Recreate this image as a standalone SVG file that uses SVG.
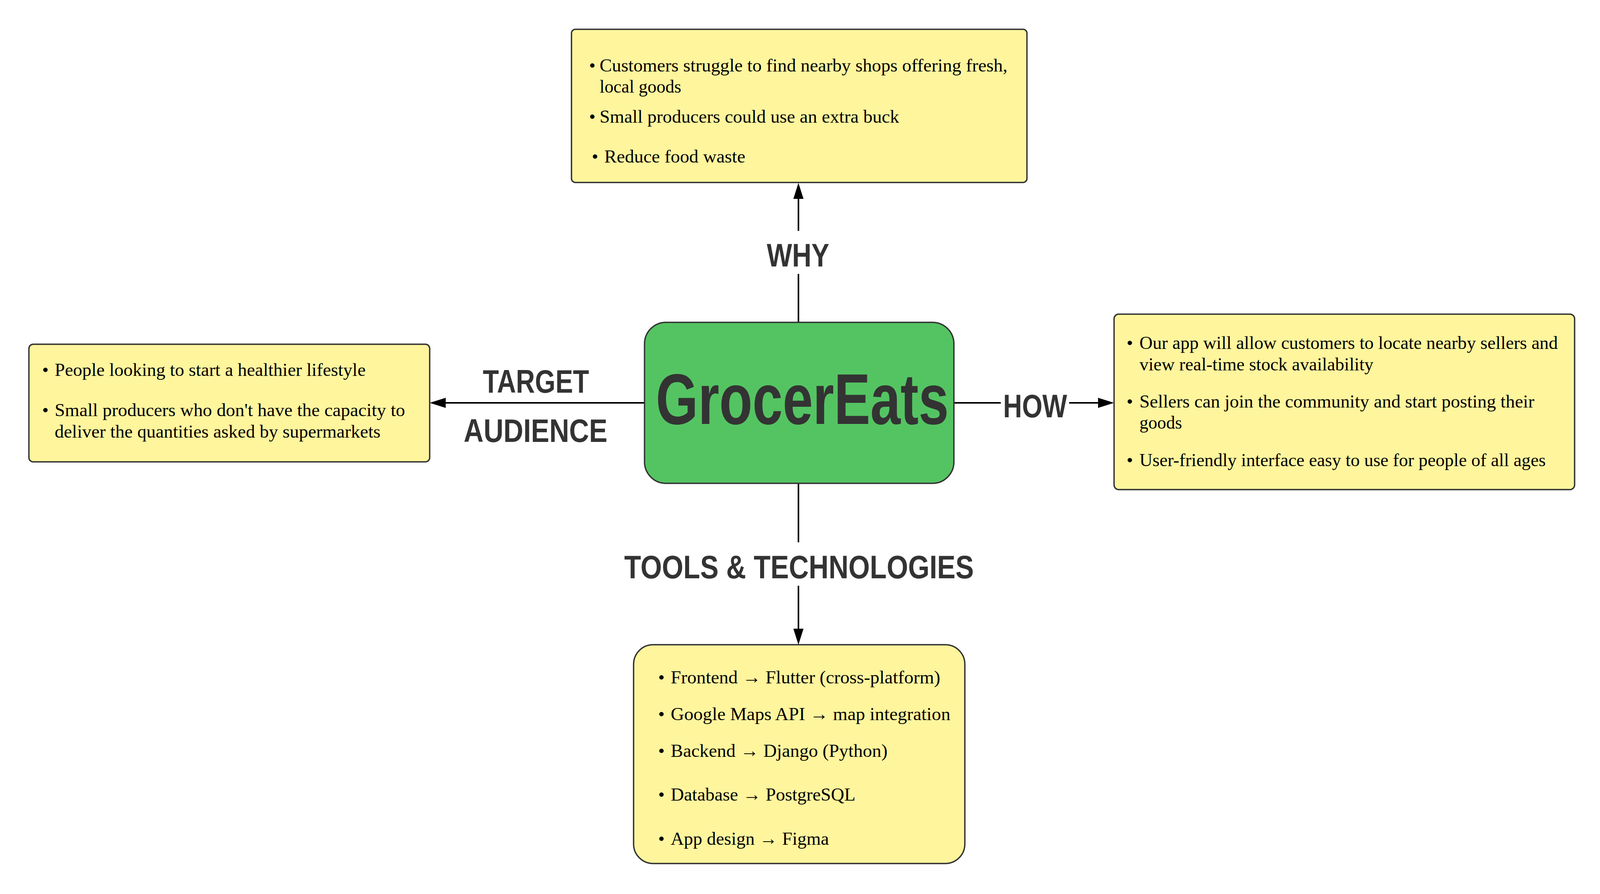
<svg xmlns="http://www.w3.org/2000/svg" width="4106" height="2288" viewBox="0 0 4106 2288">
<style>
.box{fill:#fff59d;stroke:#333;stroke-width:3.5}
.center{fill:#54c462;stroke:#333;stroke-width:3.5}
.b{font-family:"Liberation Serif","Times New Roman",serif;font-size:47px;fill:#000}
.hand{font-family:"Liberation Sans",Arial,sans-serif;font-weight:bold;fill:#333}
.lbl{font-size:83px}
.edge{fill:none;stroke:#000;stroke-width:4}
</style>
<defs>
<marker id="arrow" markerUnits="userSpaceOnUse" viewBox="0 0 41 26" refX="0" refY="13" markerWidth="41" markerHeight="26" orient="auto">
<path d="M0,0 L41,13 L0,26 z" fill="#000"/>
</marker>
</defs>
<rect width="4106" height="2288" fill="#fff"/>

<g id="connectors">
<path class="edge" d="M2044 825 V701 M2044 591 V509" marker-end="url(#arrow)"/>
<path class="edge" d="M2442 1031 H2562 M2737 1031 H2811" marker-end="url(#arrow)"/>
<path class="edge" d="M2044 1237 V1388 M2044 1499 V1609" marker-end="url(#arrow)"/>
<path class="edge" d="M1650 1031 H1141" marker-end="url(#arrow)"/>
</g>

<g id="edge-labels">
<text class="hand lbl" transform="translate(1963,682) scale(0.826,1)">WHY</text>
<text class="hand lbl" transform="translate(2568,1068) scale(0.808,1)">HOW</text>
<text class="hand lbl" transform="translate(1236,1005) scale(0.812,1)">TARGET</text>
<text class="hand lbl" transform="translate(1187,1131) scale(0.849,1)">AUDIENCE</text>
<text class="hand lbl" transform="translate(1598,1480) scale(0.849,1)">TOOLS &amp; TECHNOLOGIES</text>
</g>

<g id="node-center">
<rect class="center" x="1650" y="825" width="792" height="412" rx="55" ry="55"/>
<text class="hand" font-size="184" transform="translate(1679,1085) scale(0.756,1)">GrocerEats</text>
</g>

<g id="node-why">
<rect class="box" x="1463" y="75" width="1166" height="392" rx="10" ry="10"/>
<text class="b" x="1508" y="183">•</text>
<text class="b" x="1535" y="183" textLength="1044" lengthAdjust="spacingAndGlyphs">Customers struggle to find nearby shops offering fresh,</text>
<text class="b" x="1535" y="237" textLength="209" lengthAdjust="spacingAndGlyphs">local goods</text>
<text class="b" x="1508" y="314">•</text>
<text class="b" x="1535" y="314" textLength="767" lengthAdjust="spacingAndGlyphs">Small producers could use an extra buck</text>
<text class="b" x="1515" y="416">•</text>
<text class="b" x="1547" y="416" textLength="361" lengthAdjust="spacingAndGlyphs">Reduce food waste</text>
</g>

<g id="node-target">
<rect class="box" x="74" y="881" width="1026" height="301" rx="11" ry="11"/>
<text class="b" x="108" y="962">•</text>
<text class="b" x="140" y="962" textLength="796" lengthAdjust="spacingAndGlyphs">People looking to start a healthier lifestyle</text>
<text class="b" x="108" y="1065">•</text>
<text class="b" x="140" y="1065" textLength="897" lengthAdjust="spacingAndGlyphs">Small producers who don't have the capacity to</text>
<text class="b" x="140" y="1120" textLength="834" lengthAdjust="spacingAndGlyphs">deliver the quantities asked by supermarkets</text>
</g>

<g id="node-how">
<rect class="box" x="2852" y="804" width="1179" height="449" rx="12" ry="12"/>
<text class="b" x="2884" y="893">•</text>
<text class="b" x="2917" y="893" textLength="1071" lengthAdjust="spacingAndGlyphs">Our app will allow customers to locate nearby sellers and</text>
<text class="b" x="2917" y="948" textLength="599" lengthAdjust="spacingAndGlyphs">view real-time stock availability</text>
<text class="b" x="2884" y="1043">•</text>
<text class="b" x="2917" y="1043" textLength="1011" lengthAdjust="spacingAndGlyphs">Sellers can join the community and start posting their</text>
<text class="b" x="2917" y="1097" textLength="109" lengthAdjust="spacingAndGlyphs">goods</text>
<text class="b" x="2884" y="1193">•</text>
<text class="b" x="2917" y="1193" textLength="1040" lengthAdjust="spacingAndGlyphs">User-friendly interface easy to use for people of all ages</text>
</g>

<g id="node-tools">
<rect class="box" x="1622" y="1650" width="848" height="560" rx="50" ry="50"/>
<text class="b" x="1685" y="1749">•</text>
<text class="b" x="1717" y="1749" textLength="690" lengthAdjust="spacingAndGlyphs">Frontend → Flutter (cross-platform)</text>
<text class="b" x="1685" y="1843">•</text>
<text class="b" x="1717" y="1843" textLength="716" lengthAdjust="spacingAndGlyphs">Google Maps API → map integration</text>
<text class="b" x="1685" y="1937">•</text>
<text class="b" x="1717" y="1937" textLength="555" lengthAdjust="spacingAndGlyphs">Backend → Django (Python)</text>
<text class="b" x="1685" y="2049">•</text>
<text class="b" x="1717" y="2049" textLength="473" lengthAdjust="spacingAndGlyphs">Database → PostgreSQL</text>
<text class="b" x="1685" y="2162">•</text>
<text class="b" x="1717" y="2162" textLength="405" lengthAdjust="spacingAndGlyphs">App design → Figma</text>
</g>
</svg>
